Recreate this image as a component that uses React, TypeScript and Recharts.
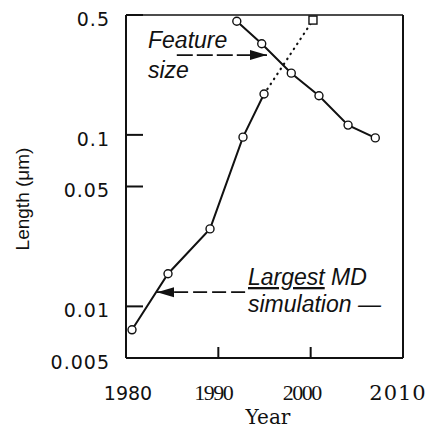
import React from 'react'
import { LineChart, Line, XAxis, YAxis, ReferenceLine, ReferenceDot } from 'recharts'

// Largest MD simulation (length in micrometres)
const mdYears = [1980.65, 1984.55, 1989.1, 1992.67, 1994.95, 2000.25]
const mdLengths = [0.0073, 0.0155, 0.0283, 0.097, 0.173, 0.467]

// Feature size
const featureYears = [1992.0, 1994.7, 1997.9, 2000.9, 2004.05, 2007.0]
const featureLengths = [0.46, 0.34, 0.229, 0.169, 0.114, 0.096]

const xTicks = [1980, 1990, 2000, 2010]
const yTicks = [0.005, 0.01, 0.05, 0.1, 0.5]
const innerXTicks = [1990, 2000]
const innerYTicks = [0.05, 0.1]

// annotation arrows: [from, tip]
const featureArrow = [
  { x: 1985.5, y: 0.292 },
  { x: 1995.27, y: 0.292 },
]
const mdArrow = [
  { x: 1992.9, y: 0.0121 },
  { x: 1983.36, y: 0.0121 },
]

const mdSolid = mdYears.slice(0, 5).map((year, i) => ({ year, length: mdLengths[i] }))
const mdDotted = mdYears.slice(4).map((year, i) => ({ year, length: mdLengths[i + 4] }))
const featureData = featureYears.map((year, i) => ({ year, length: featureLengths[i] }))

const INK = '#111'

const OpenCircle = (props: any) => {
  const { cx, cy, index } = props
  if (cx == null || cy == null) return <g key={`n-${index}`} />
  return <circle key={`c-${index}`} cx={cx} cy={cy} r={4} fill="#fff" stroke={INK} strokeWidth={1.4} />
}

const EndSquare = (props: any) => {
  const { cx, cy, index } = props
  if (cx == null || cy == null || index !== mdDotted.length - 1) return <g key={`n-${index}`} />
  return <rect key={`s-${index}`} x={cx - 4} y={cy - 4} width={8} height={8} fill="#fff" stroke={INK} strokeWidth={1.4} />
}

const arrowHead = (dir: number) => (props: any) => {
  const { cx, cy } = props
  const len = 17
  const half = 5
  return (
    <polygon
      points={`${cx},${cy} ${cx - dir * len},${cy - half} ${cx - dir * len},${cy + half}`}
      fill={INK}
    />
  )
}

const YTick = (props: any) => {
  const { x, y, payload } = props
  return (
    <text x={x} y={y + 4} dy="0.35em" textAnchor="end" fontFamily="DejaVu Sans" fontSize={19} letterSpacing={1} fill={INK}>
      {String(payload.value)}
    </text>
  )
}

// the tick labels in the source come in mixed typefaces
const xLabelStyle: Record<number, { font: string; size: number; spacing: number; dx: number }> = {
  1980: { font: 'DejaVu Sans', size: 19, spacing: 0, dx: 2 },
  1990: { font: 'Liberation Serif', size: 22, spacing: -1.5, dx: -5 },
  2000: { font: 'Liberation Serif', size: 22, spacing: -1.5, dx: -9 },
  2010: { font: 'DejaVu Serif', size: 21, spacing: 1, dx: -5 },
}

const XTick = (props: any) => {
  const { x, y, payload } = props
  const s = xLabelStyle[payload.value] || xLabelStyle[2010]
  return (
    <text x={x + s.dx} y={y + 42} textAnchor="middle" fontFamily={s.font} fontSize={s.size} letterSpacing={s.spacing} fill={INK}>
      {String(payload.value)}
    </text>
  )
}

export default function App() {
  return (
    <div style={{ position: 'absolute', left: 0, top: 0, width: 428, height: 430, background: '#fff' }}>
      <LineChart width={428} height={430} margin={{ top: 14, right: 24, bottom: 0, left: 0 }}>
        <XAxis
          xAxisId="bottom"
          type="number"
          dataKey="year"
          domain={[1980, 2010]}
          ticks={xTicks}
          allowDataOverflow
          height={72}
          stroke={INK}
          axisLine={{ stroke: INK, strokeWidth: 2 }}
          tickLine={{ stroke: INK, strokeWidth: 2 }}
          tickSize={-11}
          tickMargin={11}
          tick={<XTick />}
        />
        <XAxis
          xAxisId="top"
          orientation="top"
          type="number"
          domain={[1980, 2010]}
          ticks={innerXTicks}
          allowDataOverflow
          height={1}
          axisLine={{ stroke: INK, strokeWidth: 1.6 }}
          tickLine={{ stroke: INK, strokeWidth: 1.4 }}
          tickSize={-10}
          tick={false}
        />
        <YAxis
          yAxisId="left"
          type="number"
          scale="log"
          domain={[0.005, 0.5]}
          ticks={yTicks}
          allowDataOverflow
          width={126}
          axisLine={{ stroke: INK, strokeWidth: 2 }}
          tickLine={{ stroke: INK, strokeWidth: 2 }}
          tickSize={-17}
          tickMargin={33}
          tick={<YTick />}
        />
        <YAxis
          yAxisId="right"
          orientation="right"
          type="number"
          scale="log"
          domain={[0.005, 0.5]}
          ticks={innerYTicks}
          allowDataOverflow
          width={1}
          axisLine={{ stroke: INK, strokeWidth: 2 }}
          tickLine={{ stroke: INK, strokeWidth: 2 }}
          tickSize={-17}
          tick={false}
        />

        <Line
          data={mdDotted}
          xAxisId="bottom"
          yAxisId="left"
          dataKey="length"
          stroke={INK}
          strokeWidth={2.2}
          strokeDasharray="0.5 5.5"
          strokeLinecap="round"
          dot={<EndSquare />}
          activeDot={false}
          isAnimationActive={false}
        />
        <Line
          data={mdSolid}
          xAxisId="bottom"
          yAxisId="left"
          dataKey="length"
          stroke={INK}
          strokeWidth={2}
          dot={<OpenCircle />}
          activeDot={false}
          isAnimationActive={false}
        />
        <Line
          data={featureData}
          xAxisId="bottom"
          yAxisId="left"
          dataKey="length"
          stroke={INK}
          strokeWidth={2}
          dot={<OpenCircle />}
          activeDot={false}
          isAnimationActive={false}
        />

        <ReferenceLine
          xAxisId="bottom"
          yAxisId="left"
          segment={featureArrow}
          stroke={INK}
          strokeWidth={1.8}
          strokeDasharray="16 4"
          ifOverflow="visible"
        />
        <ReferenceDot
          xAxisId="bottom"
          yAxisId="left"
          x={featureArrow[1].x}
          y={featureArrow[1].y}
          shape={arrowHead(1)}
          ifOverflow="visible"
        />
        <ReferenceLine
          xAxisId="bottom"
          yAxisId="left"
          segment={mdArrow}
          stroke={INK}
          strokeWidth={1.8}
          strokeDasharray="14 5"
          ifOverflow="visible"
        />
        <ReferenceDot
          xAxisId="bottom"
          yAxisId="left"
          x={mdArrow[1].x}
          y={mdArrow[1].y}
          shape={arrowHead(-1)}
          ifOverflow="visible"
        />

        <text x={148} y={48} fontFamily="Liberation Sans" fontStyle="italic" fontSize={23} fill={INK}>
          Feature
        </text>
        <text x={148} y={78} fontFamily="Liberation Sans" fontStyle="italic" fontSize={23} fill={INK}>
          size
        </text>
        <text x={248} y={285} fontFamily="Liberation Sans" fontStyle="italic" fontSize={23} fill={INK}>
          <tspan style={{ textDecoration: 'underline' }}>Largest</tspan> MD
        </text>
        <text x={248} y={312} fontFamily="Liberation Sans" fontStyle="italic" fontSize={23} fill={INK}>
          simulation —
        </text>
        <text
          x={22}
          y={199}
          transform="rotate(-90, 22, 199)"
          textAnchor="middle"
          dominantBaseline="central"
          fontFamily="Liberation Sans"
          fontSize={19}
          fill={INK}
        >
          Length (μm)
        </text>
        <text x={268} y={424} textAnchor="middle" fontFamily="DejaVu Serif" fontSize={20} fill={INK}>
          Year
        </text>
      </LineChart>
    </div>
  )
}
